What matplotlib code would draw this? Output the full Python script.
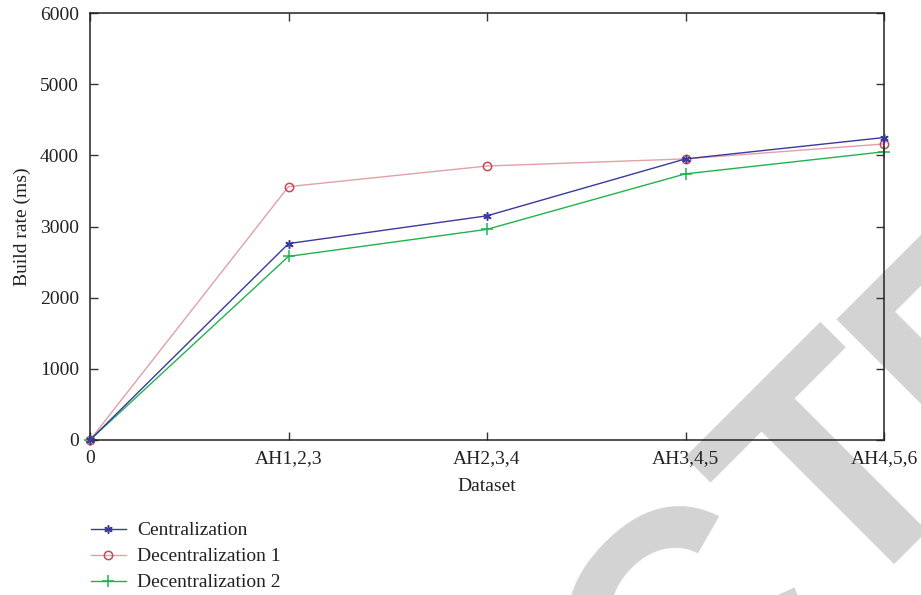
import matplotlib
matplotlib.use("Agg")
import matplotlib.pyplot as plt

# данные с графика
datasets = ["0", "AH1,2,3", "AH2,3,4", "AH3,4,5", "AH4,5,6"]
centralization = [0, 2760, 3150, 3950, 4250]
decentralization_1 = [0, 3560, 3850, 3950, 4160]
decentralization_2 = [0, 2580, 2960, 3740, 4050]

plt.rcParams["font.family"] = ["Liberation Serif", "DejaVu Serif"]
plt.rcParams["font.size"] = 14

fig = plt.figure(figsize=(9.21, 5.95), dpi=100)
ax = fig.add_axes([90 / 921, 1 - 440 / 595, (884 - 90) / 921, (440 - 13) / 595])
ax.set_facecolor("none")

# водяной знак RETRACTED (видны только буквы C, T, E)
wm = dict(fontsize=234, color="#d3d3d3", family="Liberation Sans", weight="bold",
          rotation=45, rotation_mode="anchor", ha="center", va="baseline",
          zorder=-1)
fig.text(758 / 921, 1 - 698 / 595, "C", **wm)
fig.text(910 / 921, 1 - 545 / 595, "T", **wm)
fig.text(1050 / 921, 1 - 401 / 595, "E", **wm)

x = range(len(datasets))
ax.plot(x, centralization, color="#3a3a9e", lw=1.0, marker=(6, 2, 0), ms=6,
        mew=1.1, label="Centralization", clip_on=False, zorder=3)
ax.plot(x, decentralization_1, color="#e3a0a6", lw=1.0, marker="o", ms=6,
        mfc="none", mec="#c8485a", mew=1.1, label="Decentralization 1",
        clip_on=False, zorder=2)
ax.plot(x, decentralization_2, color="#22b150", lw=1.0, marker="+", ms=8,
        mew=1.1, label="Decentralization 2", clip_on=False, zorder=2)

ax.set_xlim(0, 4)
ax.set_ylim(0, 6000)
ax.set_xticks(list(x))
ax.set_xticklabels(datasets)
ax.set_yticks(range(0, 6001, 1000))
ax.tick_params(direction="in", length=6, width=1, top=True, right=True,
               color="#333333", labelcolor="#222222")
ax.tick_params(axis="y", pad=8)
ax.tick_params(axis="x", pad=7)
for s in ax.spines.values():
    s.set_linewidth(1.1)
    s.set_color("#222222")

ax.set_xlabel("Dataset", color="#222222", labelpad=8)
ax.set_ylabel("Build rate (ms)", color="#222222", labelpad=6)

fig.legend(loc="upper left", bbox_to_anchor=(83 / 921, 1 - 514 / 595),
           frameon=False, handlelength=1.8, handletextpad=0.6,
           labelspacing=0.43, borderaxespad=0, labelcolor="#222222")

fig.savefig("out.png", dpi=100, facecolor="white")
